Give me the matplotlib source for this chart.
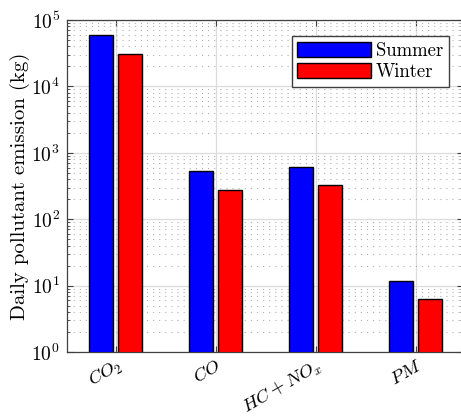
import numpy as np
import matplotlib
matplotlib.use("Agg")
import matplotlib.pyplot as plt
from matplotlib.ticker import LogLocator, NullFormatter

categories = [r"$CO_2$", r"$CO$", r"$HC + NO_x$", r"$PM$"]
summer = [59400, 530, 615, 11.7]
winter = [30800, 280, 325, 6.2]
series_names = ["Summer", "Winter"]

plt.rcParams["font.family"] = "serif"
plt.rcParams["font.serif"] = ["cmr10", "DejaVu Serif"]
plt.rcParams["mathtext.fontset"] = "cm"
plt.rcParams["axes.formatter.use_mathtext"] = True

W, H = 461, 419
fig = plt.figure(figsize=(W / 100, H / 100), dpi=100)
ax = fig.add_axes([67 / W, 1 - 352 / H, (463 - 67) / W, (352 - 20) / H])

x = np.arange(1, len(categories) + 1)
w = 0.24
off = 0.145
ax.bar(x - off, summer, w, color="#0000ff", edgecolor="black", linewidth=1,
       label=series_names[0], zorder=3)
ax.bar(x + off, winter, w, color="#ff0000", edgecolor="black", linewidth=1,
       label=series_names[1], zorder=3)

ax.set_yscale("log")
ax.set_ylim(1, 1e5)
ax.set_xlim(0.515, 4.47)
ax.set_xticks(x)
ax.set_xticklabels(categories, rotation=30, ha="right", rotation_mode="anchor",
                   fontsize=13.5)
ax.yaxis.set_major_locator(LogLocator(base=10, numticks=10))
ax.yaxis.set_minor_locator(LogLocator(base=10, subs=np.arange(2, 10), numticks=20))
ax.yaxis.set_minor_formatter(NullFormatter())
ax.tick_params(axis="y", labelsize=14, pad=5)
ax.tick_params(axis="x", pad=3)

ax.grid(True, which="major", color="#dcdcdc", linewidth=0.9, zorder=0)
ax.grid(True, which="minor", axis="y", color="#b0b0b0", linestyle=(0, (1, 4.5)),
        linewidth=0.8, zorder=0)
ax.set_axisbelow(True)

ax.tick_params(which="both", direction="in", top=True, right=True,
               color="#404040")
ax.tick_params(which="major", length=4)
ax.tick_params(which="minor", length=2)
for s in ax.spines.values():
    s.set_color("#404040")
    s.set_linewidth(0.9)

ax.set_ylabel("Daily pollutant emission (kg)", fontsize=15, labelpad=1)

leg = ax.legend(loc="upper right", bbox_to_anchor=(449 / W, 1 - 36 / H),
                bbox_transform=fig.transFigure,
                fontsize=13.5, fancybox=False, edgecolor="#404040",
                framealpha=1, handlelength=3.9, handleheight=0.85,
                borderpad=0.3, labelspacing=0.2, handletextpad=0.3,
                borderaxespad=0)
leg.get_frame().set_linewidth(1.0)

fig.savefig("out.png", dpi=100)
